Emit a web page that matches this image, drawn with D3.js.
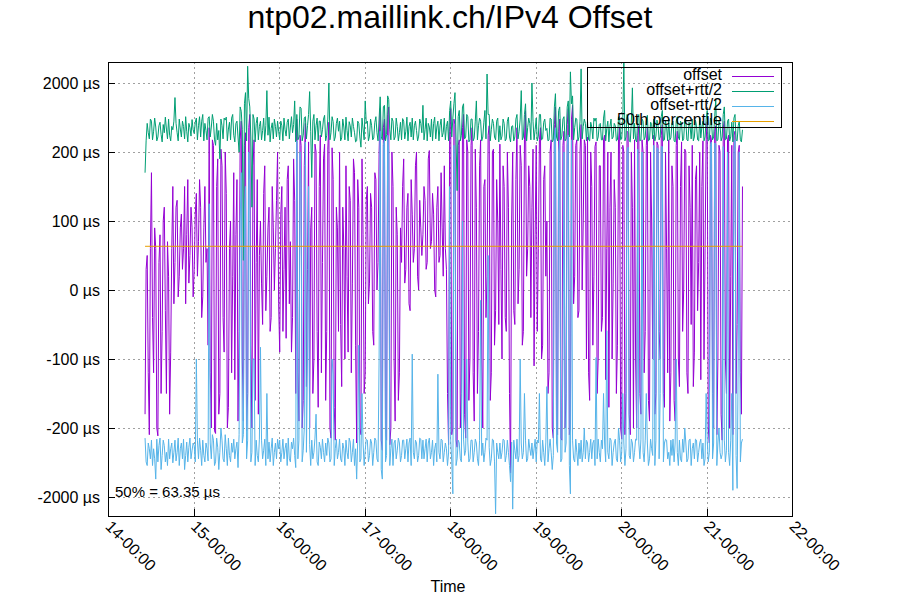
<!DOCTYPE html>
<html>
<head>
<meta charset="utf-8">
<script src="https://cdn.jsdelivr.net/npm/d3@7/dist/d3.min.js"></script>
<style>
html,body{margin:0;padding:0;background:#fff;}
svg{display:block;font-family:"Liberation Sans",Arial,sans-serif;}
</style>
</head>
<body>
<svg id="chart" width="900" height="600"></svg>
<script>
// ---- data ----
const title = "ntp02.maillink.ch/IPv4 Offset";
const seriesNames = ["offset", "offset+rtt/2", "offset-rtt/2", "50th percentile"];
const startTime = "2024-01-01T14:26:00";
const stepSeconds = 45;
const percentile50 = 63.35;
const yTickValues = [-2000, -200, -100, 0, 100, 200, 2000];
const yTickLabels = ["-2000 µs", "-200 µs", "-100 µs", "0 µs", "100 µs", "200 µs", "2000 µs"];
const xTickLabels = ["14-00:00","15-00:00","16-00:00","17-00:00","18-00:00","19-00:00","20-00:00","21-00:00","22-00:00"];

const offset = [
 -180,30, 50,-120, -250,60,
 170,-40, -120,90, 60,-200, -260,40, 80,-150, -60,100, 120,-30, -150,70, 20,-180, -90,60, 150,-20,
 40,120, 130,-10, 20,90, 110,30, 60,150, -20,80, 160,10, 50,120, 90,-10,
 30,110, 140,20, 70,160, 120,-40, -10,90, 150,40, 60,-80,
 450,-120, -200,300, 250,-220, -240,150, 190,-180, -150,220,
 180,-40, -90,200, 140,-200, -170,60, 100,-120, 20,170, -130,80, 160,-190, -60,300,
 560,-100, -190,250, 380,-220, -150,450, 700,-80, -200,180, 300,-160, 40,160, -180,50,
 100,10, -50,140, 180,-30, 20,90, 120,-60, -40,150, 90,0, 60,130, 200,-20,
 -90,110, 150,-60, 30,120, -70,160, 180,-20, 70,-90, -40,190, 130,-150,
 600,-120, -190,350, 250,-200, -160,180, 520,-140, 30,280, -200,90,
 120,-150, -100,260, 200,-60, -170,150, 350,-120, 40,190, 260,-160, -60,220,
 540,-200, -280,230, 160,-170, -300,120, 90,-60,
 200,-50, -140,120, 60,-100, 180,20, -90,150, 130,-120, 10,190, 170,-80,
 -330,160, 120,-200, -250,190, 80,-150, -120,130,
 150,-20, 10,140, 120,-60, -80,170, 160,0, 40,200,
 850,-300, -420,450, 600,-250, -300,700, 900,-350, -200,200,
 150,-100, -190,120, 80,-160, -120,90, 40,150,
 190,10, 30,120, 140,-20, -30,160, 110,40, 60,180, 200,20, 0,130, 90,50,
 80,150, 130,30, 40,190, 210,60, 70,140, 110,0, -10,120, 150,40, 50,170, 90,20, 180,60, 30,-150,
 -350,400, 850,-250, -200,600, 500,-300, -380,250, 300,-200, -150,450, 700,-180, -280,300, 200,-160, -100,250,
 450,-120, -190,220, 120,-150, -60,180, 300,-100, -200,150, 160,-40, 20,350, 480,-160, -120,200, 220,-80, -30,160, 100,-50,
 260,30, -100,180, 150,-40, -60,200, 120,-150, -900,100,
 200,-30, -50,160, 450,-20, 30,250, 180,-80, -60,300, 790,20, 60,180, 150,-40,
 120,220, -110,80, 250,-60, 60,300, 450,-100, -80,160, 180,20, 100,-150, -120,200, 300,-200,
 -280,500, 900,-200, -250,400, 600,-280, -300,250, 400,-200, -150,500, 850,-250, -200,600,
 950,-20, 20,250, 300,-40, -30,200, 500,0, 100,300, 250,-100,
 330,-120, -160,200, 150,-80, 20,240, 280,-150, -100,180, 180,-60, -40,300, 350,-130, 60,200, -170,120, 200,-100, 10,160, 120,-150, -80,300,
 450,-200, -290,250, 200,-250, -150,400, 380,-180, -250,200, 120,-200, 300,-100, -200,350,
 480,-150, -180,300, 200,-120, -60,250, 450,-160, -190,200, 100,-100, 350,-180, -150,280, 250,-60, -100,350, 500,-150, -170,200, 60,-120, 300,-190, -120,180, 150,-160, -190,250, 400,-100,
 -140,150, 280,-60, 0,220, 200,-120, -150,180, 120,-50, 250,-140, -90,160, 180,-30, 40,200, -130,150, 290,-100, 60,300,
 550,-200, -330,350, 300,-150, -200,400, 480,-250, -100,250, 200,-180, -300,450, 560,-100, -150,300, 350,-200, 20,250, -250,350, 400,-150, -50,200, 250,-120, -180,150
];

const offsetPlus = [
 170,290, 520,380, 310,600,
 560,300, 400,620, 460,290, 330,480, 540,360, 280,500, 380,640, 430,310, 600,350, 290,470, 420,560,
 1230,520, 380,290, 600,430, 330,560, 470,310, 650,400, 280,520, 450,340, 590,420,
 370,540, 620,300, 480,650, 330,560, 700,290, 520,410, 300,620,
 650,330, 460,700, 560,300, 250,520, 300,410, 190,600,
 480,310, 620,580, 640,290, 430,540, 300,620, 700,350, 280,520, 560,330, 200,900,
 780,420, 43,1000, 1450,290, 3500,1200, 900,330, 120,700, 600,280, 520,640, 300,470,
 560,300, 410,620, 290,480, 1550,350, 640,280, 440,530, 310,600, 470,330, 560,400,
 300,560, 480,290, 620,420, 340,540, 600,310, 460,650, 380,500, 1100,280,
 700,300, 330,900, 860,290, 350,620, 650,310, 480,700, 1500,400,
 163,560, 700,300, 480,620, 290,560, 560,330, 420,600, 680,290, 350,600,
 2000,300, 380,650, 550,290, 330,520, 620,400,
 560,290, 320,600, 460,300, 640,410, 290,550, 480,330, 620,470, 380,280,
 290,560, 520,330, 235,620, 430,300, 1100,520,
 560,290, 340,600, 480,300, 320,540, 650,380, 290,600,
 1260,330, 300,900, 950,290, 360,1300, 1150,420, 300,620,
 560,300, 330,620, 470,290, 380,540, 300,610,
 560,310, 400,640, 290,470, 540,330, 620,300, 480,560, 410,290, 340,600, 520,380,
 950,300, 420,620, 290,520, 460,330, 600,290, 520,640, 310,460, 560,290, 480,600, 330,380, 620,300, 470,560,
 290,800, 1100,330, 620,1000, 1450,300, 144,650, 800,290, 350,900, 1000,310, 330,700, 650,280, 300,600,
 600,290, 320,560, 1100,300, 480,620, 560,290, 330,540, 800,310, 2700,700, 700,290, 420,600, 520,330, 300,560, 620,280,
 480,300, 340,600, 520,290, 310,560, 640,330, 280,470,
 480,290, 330,600, 700,310, 400,600, 1550,300, 330,700, 1000,290, 450,620, 520,300,
 2000,560, 300,420, 620,290, 340,700, 700,300, 310,540, 600,410, 440,290, 300,620, 600,280,
 300,900, 1400,330, 290,800, 900,300, 340,600, 650,290, 310,900, 1100,330, 2900,1000,
 1300,300, 450,620, 600,290, 330,560, 3200,310, 470,600, 520,290,
 560,300, 290,540, 460,310, 620,560, 620,290, 330,500, 520,300, 300,620, 800,290, 440,560, 280,470, 600,310, 330,520, 480,290, 300,640,
 650,300, 310,560, 4000,290, 330,700, 600,290, 280,540, 1700,310, 520,300, 280,650,
 700,290, 300,600, 560,300, 330,560, 680,290, 300,540, 520,310, 600,290, 340,580, 480,300, 330,650, 800,290, 300,560, 460,290, 600,300, 320,520, 560,290, 280,560, 650,330,
 300,560, 520,290, 310,600, 560,300, 290,540, 470,310, 600,290, 330,580, 480,300, 290,620, 320,460, 560,290, 330,600,
 800,290, 300,620, 560,300, 330,650, 1150,290, 300,560, 500,290, 330,700, 900,300, 310,560, 600,290, 330,540, 280,620, 700,300, 290,480, 560,300, 280,420
];

const offsetMinus = [
 -280,-620, -700,-330, -400,-560,
 -300,-700, -400,-560, -1100,-290, -620,-360, -280,-800, -500,-300, -360,-620, -450,-700, -290,-560, -400,-330, -640,-450,
 -300,-600, -450,-280, -700,-400, -330,-560, -290,-800, -500,-320, -620,-380, -280,-560, -420,-330,
 -360,-620, -100,-300, -560,-280, -420,-700, -300,-500, -620,-330, -400,-600,
 125,-330, -560,-250, -300,-700, -620,-280, -380,-800, -450,-200,
 -300,-560, -620,-250, -400,-700, -280,-500, -620,-330, -450,-290, -560,-400, -320,-750, -250,100,
 170,-330, -250,100, 150,-560, -300,200, 160,-620, -450,-100, -100,-700, -300,-500, -620,-290,
 -83,-300, -560,-420, -290,-700, -150,-560, -320,-620, -400,-280, -700,-450, -330,-560, -290,-400,
 -300,-620, -450,-290, -560,-400, -330,-700, -280,-560, -620,-320, -400,-280, -500,-750,
 290,-560, -300,200, 150,-620, -420,-200, 280,-450, -100,150, -350,-700,
 -300,-560, -450,-280, -180,-620, -700,-320, -380,-560, -290,-450, -620,-330, -500,-280,
 -330,-620, -560,-100, -122,-700, -400,-290, -560,-450,
 -290,-560, -620,-330, -400,-700, -300,-450, -560,-280, -320,-620, -450,-290, -700,-400,
 -1100,-300, -80,-620, -560,-150, -330,-700, -420,-290,
 -300,-620, -500,-290, -330,-700, -450,-280, -300,-560, -620,-100,
 400,-800, -1100,250, 300,-620, -500,350, 200,-700, -400,-290,
 -700,-330, -300,-560, -420,-280, -330,-620, -500,-300,
 -300,-560, -400,-290, -620,-330, -280,-700, -93,-450, -560,-300, -330,-620, -500,-280, -290,-560,
 -300,-560, -400,-290, -620,-330, -280,-560, -450,-300, -700,-400, -330,-620, -122,-450, -560,-290, -300,-620, -450,-330, -400,-700,
 -460,150, -300,-620, -1800,250, 134,-700, -560,-300, -330,-560, -620,100, -290,-500, -420,-100, -320,-620, -560,-300,
 -300,-620, -450,-290, -330,-560, -700,-300, -15,-500, -330,-620, -450,-280, -300,50, -380,-700, -560,-290, -300,-620, -3500,-330, -450,-560,
 -330,-560, -450,-290, -300,-620, -500,-300, -450,-700, -1200,-320,
 -3000,-300, -420,-560, -290,-620, -500,-100, -330,-560, -450,-150, -300,-620, -560,-290, -400,-500,
 -330,-560, -400,-290, -620,-300, -330,-150, -560,-620, -300,-450, -700,-320, -140,-620, -400,-290, -450,-800,
 -500,300, 450,-330, -450,200, 300,-620, -560,-100, 200,-450, -330,250, 350,-700, -1800,300,
 -300,-560, -620,-290, -450,-700, -330,-560, -300,-620, -450,-200, -560,-300,
 -330,-620, -450,-290, -560,-330, -300,-700, -98,-560, -290,-450, -620,-300, -400,-150, -330,-620, -59,-450, -560,-280, -300,-700, -450,-330, -290,-560, -620,-200,
 -300,-620, -450,-150, -330,-700, -400,200, 235,-500, -560,-290, -330,-620, -450,-290, -300,220,
 -330,-560, -290,200, -450,-620, -300,-150, -330,-700, -560,-290, -400,-500, 250,-700, -300,230, 220,-560, -150,240, 240,-620, -330,-290, -300,-560, -450,-700, -300,-500, -290,-620, -330,-100, -450,-700,
 -300,-560, -620,-290, -450,-200, -330,-620, -560,-300, -290,-700, -400,-330, -560,-290, -300,-620, -450,-330, -290,-560, -330,-700, -560,-150,
 -300,-620, -450,250, 280,-560, -330,270, 260,-700, -330,-200, -450,-560, -480,240, -300,-620, -420,200, -450,-700, -300,-150, -1600,200, 300,-500, -1500,-100, 200,-620, -330,-290
];

const colors = ["#9400d3", "#009e73", "#56b4e9", "#e69f00"];

// ---- layout ----
const mLeft = 108, mRight = 792, mTop = 62, mBottom = 516;
const svg = d3.select("#chart");

const t0 = new Date(startTime);
const times = offset.map((_, i) => new Date(t0.getTime() + i * stepSeconds * 1000));

const x = d3.scaleTime()
  .domain([new Date("2024-01-01T14:00:00"), new Date("2024-01-01T22:00:00")])
  .range([mLeft, mRight]);

// piecewise linear/log transform: linear within ±200 µs, log decade beyond
const tf = v => {
  const a = Math.abs(v);
  if (a <= 200) return v / 100;
  return Math.sign(v) * (2 + Math.log10(a / 200));
};
const yT = d3.scaleLinear().domain([-3.2754, 3.3043]).range([mBottom, mTop]);
const y = v => yT(tf(v));

// grid
const gridG = svg.append("g");
const xTicks = d3.range(0, 9).map(h => new Date(2024, 0, 1, 14 + h, 0, 0));
gridG.selectAll("line.gx").data(xTicks.slice(1, -1)).enter().append("line")
  .attr("x1", d => Math.round(x(d)) + 0.5).attr("x2", d => Math.round(x(d)) + 0.5)
  .attr("y1", mTop).attr("y2", mBottom)
  .attr("stroke", "#a0a0a0").attr("stroke-width", 1).attr("stroke-dasharray", "2,3");
gridG.selectAll("line.gy").data(yTickValues).enter().append("line")
  .attr("x1", mLeft).attr("x2", mRight)
  .attr("y1", d => Math.round(y(d)) + 0.5).attr("y2", d => Math.round(y(d)) + 0.5)
  .attr("stroke", "#a0a0a0").attr("stroke-width", 1).attr("stroke-dasharray", "2,3");

// clip
svg.append("clipPath").attr("id", "clip").append("rect")
  .attr("x", mLeft).attr("y", mTop).attr("width", mRight - mLeft).attr("height", mBottom - mTop);

const plotG = svg.append("g").attr("clip-path", "url(#clip)");
const line = d3.line().x((d, i) => x(times[i])).y(d => y(d));
[offset, offsetPlus, offsetMinus].forEach((s, k) => {
  plotG.append("path").datum(s)
    .attr("d", line)
    .attr("fill", "none")
    .attr("stroke", colors[k])
    .attr("stroke-width", 1);
});
plotG.append("line")
  .attr("x1", x(times[0])).attr("x2", x(times[times.length - 1]))
  .attr("y1", y(percentile50)).attr("y2", y(percentile50))
  .attr("stroke", colors[3]).attr("stroke-width", 1);

// axes
const yAxis = d3.axisLeft(yT)
  .tickValues(yTickValues.map(tf))
  .tickFormat((d, i) => yTickLabels[i])
  .tickSize(0).tickPadding(8);
const yg = svg.append("g").attr("transform", `translate(${mLeft},0)`).call(yAxis);
yg.select(".domain").remove();
yg.selectAll("text").attr("font-size", "16px").attr("fill", "#000")
  .attr("font-family", "'Liberation Sans', Arial, sans-serif");

// inward tick marks
svg.append("g").selectAll("line").data(yTickValues).enter().append("line")
  .attr("x1", mLeft).attr("x2", mLeft + 7)
  .attr("y1", d => Math.round(y(d)) + 0.5).attr("y2", d => Math.round(y(d)) + 0.5)
  .attr("stroke", "#000");
svg.append("g").selectAll("line").data(xTicks).enter().append("line")
  .attr("x1", d => Math.round(x(d)) + 0.5).attr("x2", d => Math.round(x(d)) + 0.5)
  .attr("y1", mBottom).attr("y2", mBottom - 7)
  .attr("stroke", "#000");

const xg = svg.append("g");
xg.selectAll("text").data(xTicks).enter().append("text")
  .attr("transform", d => `translate(${x(d) + 5},${mBottom + 3}) rotate(45)`)
  .attr("dy", "0.75em")
  .attr("text-anchor", "start")
  .attr("font-size", "16px")
  .text((d, i) => xTickLabels[i]);

// border
svg.append("rect").attr("x", mLeft + 0.5).attr("y", mTop + 0.5)
  .attr("width", mRight - mLeft).attr("height", mBottom - mTop)
  .attr("fill", "none").attr("stroke", "#000").attr("stroke-width", 1);

// title & labels
svg.append("text").attr("x", 450).attr("y", 28).attr("text-anchor", "middle")
  .attr("font-size", "32px").text(title);
svg.append("text").attr("x", 448).attr("y", 592).attr("text-anchor", "middle")
  .attr("font-size", "16px").text("Time");
svg.append("text").attr("x", 115).attr("y", 497)
  .attr("font-size", "15px").text(`50% = ${percentile50} µs`);

// legend
const lg = svg.append("g");
lg.append("rect").attr("x", 587.5).attr("y", 67.5).attr("width", 194).attr("height", 60)
  .attr("fill", "none").attr("stroke", "#000");
seriesNames.forEach((n, k) => {
  lg.append("text").attr("x", 722).attr("y", 80 + 15 * k).attr("text-anchor", "end")
    .attr("font-size", "16px").text(n);
  lg.append("line").attr("x1", 732).attr("x2", 774)
    .attr("y1", 76.5 + 15 * k).attr("y2", 76.5 + 15 * k)
    .attr("stroke", colors[k]).attr("stroke-width", 1);
});
</script>
</body>
</html>
